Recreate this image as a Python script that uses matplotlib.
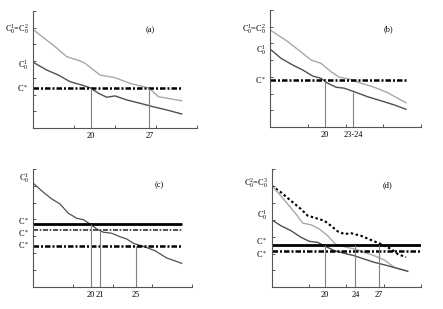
import matplotlib
matplotlib.use("Agg")
import matplotlib.pyplot as plt
import numpy as np

plt.rcParams['font.family'] = ['Liberation Serif', 'DejaVu Serif']
plt.rcParams['mathtext.default'] = 'regular'

# ---------------- data (days on x, concentration in arbitrary units on y) -------------
# panel (a)
a_x_upper = [13.07, 15.73, 17.13, 18.72, 19.32, 21.11, 22.90, 24.70, 27.0, 28.08, 30.87]
a_y_upper = [5.91, 4.87, 4.27, 4.01, 3.87, 3.17, 3.01, 2.67, 2.38, 1.87, 1.63]
a_x_lower = [13.07, 14.74, 16.13, 17.53, 18.92, 19.92, 20.91, 21.91, 22.90, 24.30, 25.89, 27.48, 29.08, 30.87]
a_y_lower = [3.95, 3.47, 3.17, 2.77, 2.57, 2.41, 2.08, 1.84, 1.92, 1.68, 1.48, 1.27, 1.08, 0.84]
a_cstar = 2.38
a_marks = [20, 27]
a_mark_labels = ['20', '27']

# panel (b)
b_x_upper = [13.34, 15.47, 17.31, 18.32, 19.55, 20.77, 21.79, 22.82, 24.44, 26.07, 27.71, 29.95]
b_y_upper = [5.80, 5.11, 4.41, 4.01, 3.81, 3.31, 2.98, 2.89, 2.62, 2.38, 2.05, 1.45]
b_x_lower = [13.34, 14.65, 16.08, 17.31, 18.53, 19.55, 20.37, 21.38, 22.40, 23.62, 25.26, 26.89, 28.52, 29.95]
b_y_lower = [4.65, 4.11, 3.71, 3.41, 3.05, 2.91, 2.62, 2.38, 2.32, 2.11, 1.81, 1.57, 1.32, 1.06]
b_cstar = 2.81
b_marks = [20, 23.5]
b_mark_tops = [2.81, 2.12]
b_mark_labels = ['20', '23-24']

# panel (c)
c_x = [13.62, 14.73, 15.67, 16.59, 17.51, 18.44, 19.18, 19.92, 20.67, 21.40, 22.33, 23.26,
       24.00, 24.73, 25.84, 27.14, 28.44, 30.11]
c_y = [6.15, 5.62, 5.22, 4.92, 4.37, 4.07, 3.99, 3.73, 3.43, 3.24, 3.18, 2.97,
       2.84, 2.58, 2.40, 2.14, 1.71, 1.39]
c_levels = [3.71, 3.37, 2.44]
c_marks = [20, 21, 25]
c_mark_labels = ['20', '21', '25']

# panel (d)
d_x_dot = [13.12, 14.32, 15.62, 16.92, 17.79, 18.81, 19.95, 20.82, 21.69, 22.55, 23.42, 24.71,
           26.01, 27.31, 28.61, 29.48, 30.56]
d_y_dot = [6.01, 5.62, 5.12, 4.63, 4.24, 4.10, 3.94, 3.64, 3.31, 3.15, 3.20, 3.05,
           2.80, 2.56, 2.27, 1.97, 1.78]
d_x_gray = [13.12, 14.10, 15.19, 16.27, 17.14, 18.22, 19.30, 20.39, 21.47, 22.55, 23.84, 25.14,
            26.44, 27.74, 29.04, 30.78]
d_y_gray = [6.01, 5.52, 4.93, 4.34, 3.80, 3.70, 3.45, 3.05, 2.52, 2.40, 2.27, 2.07,
            1.87, 1.62, 1.18, 0.95]
d_x_dark = [13.12, 14.32, 15.62, 16.92, 18.00, 19.09, 19.95, 21.25, 22.55, 23.84, 25.14, 26.44,
            28.18, 30.78]
d_y_dark = [4.00, 3.64, 3.35, 2.96, 2.72, 2.66, 2.46, 2.17, 2.01, 1.87, 1.67, 1.48,
            1.28, 0.95]
d_levels = [2.50, 2.17]
d_marks = [20, 24, 27]
d_mark_labels = ['20', '24', '27']

# ---------------- figure -------------
W, H = 443, 309
fig = plt.figure(figsize=(W / 100, H / 100), dpi=100)

def make_ax(left, right, top, bottom, xlim):
    ax = fig.add_axes([left / W, 1 - bottom / H, (right - left) / W, (bottom - top) / H])
    ax.set_xlim(*xlim)
    ax.set_ylim(0, 7)
    for s in ['top', 'right']:
        ax.spines[s].set_visible(False)
    for s in ['left', 'bottom']:
        ax.spines[s].set_color('#555555')
        ax.spines[s].set_linewidth(0.8)
    ax.set_yticks(np.arange(1, 8))
    ax.set_yticklabels([])
    ax.set_xticks(np.linspace(xlim[0], xlim[1], 5)[1:], minor=True)
    ax.tick_params(axis='both', which='both', direction='in', length=2.5, width=0.7,
                   color='#555555')
    ax.tick_params(axis='x', which='major', length=0, pad=3, labelsize=6)
    ax.patch.set_alpha(0)
    return ax

GRAY = '#a8a8a8'
DARK = '#505050'
VL = '#808080'
DASHDOT = (0, (2.2, 0.8, 0.8, 0.8))
FS = 6

def ylabel(ax, text, y):
    ax.annotate(text, xy=(0, y), xycoords=('axes fraction', 'data'), xytext=(-3, 0),
                textcoords='offset points', ha='right', va='center', fontsize=FS)

def marks(ax, xs, tops, labels):
    ax.vlines(xs, 0, tops, color=VL, lw=0.8)
    ax.set_xticks(xs)
    ax.set_xticklabels(labels)

# (a)
ax = make_ax(32.7, 196.7, 11, 128, (13.07, 32.66))
ax.plot(a_x_upper, a_y_upper, color=GRAY, lw=1.0)
ax.plot(a_x_lower, a_y_lower, color=DARK, lw=1.0)
ax.hlines(a_cstar, 13.07, 30.87, color='black', lw=1.8, linestyles=[DASHDOT])
marks(ax, a_marks, [a_cstar] * len(a_marks), a_mark_labels)
ylabel(ax, 'C$^1_0$=C$^2_0$', a_y_upper[0])
ylabel(ax, 'C$^1_0$', 3.77)
ylabel(ax, 'C$^*$', a_cstar)
ax.text(27.17, 5.86, '(a)', fontsize=FS, ha='center', va='center')

# (b)
ax = make_ax(270.3, 421, 10, 127, (13.34, 31.79))
ax.plot(b_x_upper, b_y_upper, color=GRAY, lw=1.0)
ax.plot(b_x_lower, b_y_lower, color=DARK, lw=1.0)
ax.hlines(b_cstar, 13.34, 29.95, color='black', lw=1.8, linestyles=[DASHDOT])
marks(ax, b_marks, b_mark_tops, b_mark_labels)
ylabel(ax, 'C$^1_0$=C$^2_0$', 5.82)
ylabel(ax, 'C$^1_0$', 4.61)
ylabel(ax, 'C$^*$', b_cstar)
ax.text(27.78, 5.85, '(b)', fontsize=FS, ha='center', va='center')

# (c)
ax = make_ax(33.3, 191.7, 169, 286.7, (13.62, 31.22))
ax.plot(c_x, c_y, color=DARK, lw=0.9)
ax.hlines(c_levels[0], 13.62, 30.11, color='black', lw=2.0)
ax.hlines(c_levels[1], 13.62, 30.11, color='#333333', lw=1.2, linestyles=[(0, (3, 1, 1, 1))])
ax.hlines(c_levels[2], 13.62, 30.11, color='black', lw=1.8, linestyles=[DASHDOT])
marks(ax, c_marks, c_levels, c_mark_labels)
ylabel(ax, 'C$^1_0$', 6.42)
ylabel(ax, 'C$^*$', c_levels[0] + 0.18)
ylabel(ax, 'C$^*$', c_levels[1] - 0.18)
ylabel(ax, 'C$^*$', c_levels[2])
ax.text(27.62, 6.01, '(c)', fontsize=FS, ha='center', va='center')

# (d)
ax = make_ax(271.7, 421, 169, 287.3, (13.12, 32.51))
ax.plot(d_x_dot, d_y_dot, color='black', lw=1.5, linestyle=(0, (1.2, 1.2)))
ax.plot(d_x_gray, d_y_gray, color=GRAY, lw=1.0)
ax.plot(d_x_dark, d_y_dark, color=DARK, lw=1.0)
ax.hlines(d_levels[0], 13.12, 32.51, color='black', lw=2.0)
ax.hlines(d_levels[1], 13.12, 32.51, color='black', lw=1.8, linestyles=[DASHDOT])
marks(ax, d_marks, [d_levels[0]] * len(d_marks), d_mark_labels)
ylabel(ax, 'C$^2_0$=C$^3_0$', 6.15)
ylabel(ax, 'C$^1_0$', 4.24)
ylabel(ax, 'C$^*$', 2.70)
ylabel(ax, 'C$^*$', 1.95)
ax.text(28.18, 6.07, '(d)', fontsize=FS, ha='center', va='center')

fig.savefig('out.png', dpi=100)
